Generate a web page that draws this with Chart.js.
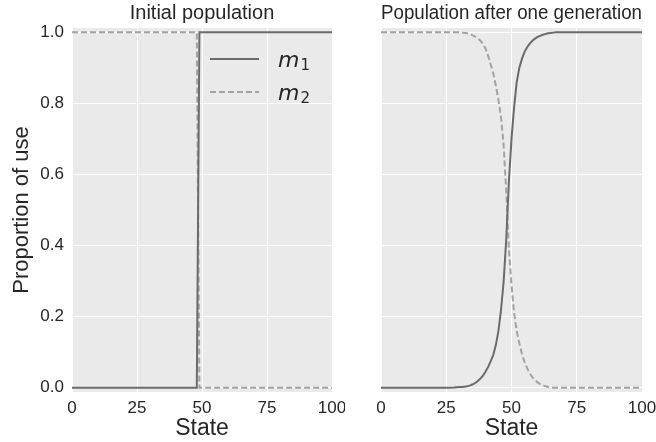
<!DOCTYPE html>
<html>
<head>
<meta charset="utf-8">
<title>Proportion of use</title>
<script src="https://cdn.jsdelivr.net/npm/chart.js@4.4.1/dist/chart.umd.min.js"></script>
<style>
  html, body { margin: 0; padding: 0; background: #fff; overflow: hidden; }
  #wrap { position: relative; width: 656px; height: 442px; }
  .box { position: absolute; top: 0; height: 442px; }
  #boxLeft { left: 0; width: 345px; }
  #boxRight { left: 345px; width: 311px; }
</style>
</head>
<body>
<div id="wrap">
  <div class="box" id="boxLeft"><canvas id="initialChart"></canvas></div>
  <div class="box" id="boxRight"><canvas id="afterChart"></canvas></div>
</div>
<script>
// --- data ---
const seriesNames = ['m1', 'm2'];
const xTicks = [0, 25, 50, 75, 100];
const yTicks = [0, 0.2, 0.4, 0.6, 0.8, 1.0];

// initial population: a sharp switch around state 48/49
const initialStates = [0, 48, 49, 100];
const initialM1 = [0, 0, 1, 1];
const initialM2 = [1, 1, 0, 0];

// after one generation
const afterStates = [0, 25, 28, 30, 31, 32, 33, 34, 35, 36, 37, 38, 39, 40, 41, 42, 43, 44, 45, 46, 47,
    48, 49, 50, 51, 52, 53, 54, 55, 56, 57, 58, 59, 60, 61, 62, 63, 64, 65, 66, 67, 70, 100];
const afterM1 = [0, 0, 0.001, 0.002, 0.002, 0.003, 0.004, 0.006, 0.009, 0.013, 0.018, 0.025, 0.033, 0.045, 0.058, 0.074, 0.092, 0.12, 0.16, 0.22, 0.30,
    0.42, 0.58, 0.70, 0.79, 0.86, 0.90, 0.925, 0.945, 0.958, 0.968, 0.976, 0.982, 0.987, 0.99, 0.993, 0.995, 0.997, 0.998, 0.999, 1, 1, 1];
const afterM2 = [1, 1, 1, 1, 0.999, 0.998, 0.997, 0.995, 0.992, 0.988, 0.983, 0.977, 0.968, 0.955, 0.935, 0.91, 0.885, 0.85, 0.81, 0.76, 0.68,
    0.55, 0.39, 0.29, 0.21, 0.16, 0.125, 0.095, 0.072, 0.055, 0.04, 0.03, 0.022, 0.015, 0.01, 0.007, 0.004, 0.002, 0.001, 0, 0, 0, 0];

const SOLID = '#6b6b6b';
const DASHED = '#a3a3a3';
const TEXT = '#262626';
const FONT = "'Liberation Sans', Arial, sans-serif";

function toPoints(xs, ys) {
    return xs.map((x, i) => ({ x: x, y: ys[i] }));
}

function makeDatasets(xs, m1, m2) {
    return [{
        label: seriesNames[0],
        data: toPoints(xs, m1),
        borderColor: SOLID,
        borderWidth: 2,
        pointRadius: 0,
        tension: 0
    }, {
        label: seriesNames[1],
        data: toPoints(xs, m2),
        borderColor: DASHED,
        borderWidth: 2,
        borderDash: [6, 3],
        pointRadius: 0,
        tension: 0
    }];
}

// gray panel background
const plotBackground = {
    id: 'plotBackground',
    beforeDraw(chart) {
        const { ctx, chartArea: a } = chart;
        ctx.save();
        ctx.fillStyle = '#eaeaea';
        ctx.fillRect(a.left, a.top, a.right - a.left, a.bottom - a.top);
        ctx.restore();
    }
};

// legend with italic m and subscript, no frame
const mathLegend = {
    id: 'mathLegend',
    afterDatasetsDraw(chart) {
        const { ctx, chartArea: a } = chart;
        ctx.save();
        chart.data.datasets.forEach((ds, i) => {
            const y = a.top + 31 + i * 33;
            ctx.strokeStyle = ds.borderColor;
            ctx.lineWidth = 2;
            ctx.setLineDash(ds.borderDash || []);
            ctx.beginPath();
            ctx.moveTo(a.right - 122, y);
            ctx.lineTo(a.right - 73, y);
            ctx.stroke();
            ctx.setLineDash([]);
            ctx.fillStyle = TEXT;
            ctx.textBaseline = 'alphabetic';
            ctx.textAlign = 'left';
            ctx.font = "italic 22px 'DejaVu Sans'";
            const base = y + 8;
            const name = ds.label.charAt(0);
            ctx.fillText(name, a.right - 54, base);
            const w = ctx.measureText(name).width;
            ctx.font = "15px 'DejaVu Sans'";
            ctx.fillText(ds.label.slice(1), a.right - 54 + w + 1, base + 3);
        });
        ctx.restore();
    }
};

function setTicks(values) {
    return function (scale) {
        scale.ticks = values.map(v => ({ value: v }));
    };
}

function baseOptions(title, showY, padding) {
    return {
        responsive: true,
        maintainAspectRatio: false,
        animation: false,
        layout: { padding: padding },
        plugins: {
            legend: { display: false },
            tooltip: { enabled: false },
            title: {
                display: true,
                text: title,
                fullSize: false,
                color: TEXT,
                font: { family: FONT, size: 20, weight: 'normal' },
                padding: { top: 1, bottom: 3 }
            }
        },
        scales: {
            x: {
                type: 'linear',
                min: 0,
                max: 100,
                afterBuildTicks: setTicks(xTicks),
                afterFit(scale) {
                    scale.height = 50;
                    scale.paddingLeft = 0;
                    scale.paddingRight = 0;
                },
                grid: { color: '#ffffff', lineWidth: 1, drawTicks: false },
                border: { display: false },
                ticks: {
                    color: TEXT,
                    padding: 6,
                    maxRotation: 0,
                    font: { family: FONT, size: 17 }
                },
                title: {
                    display: true,
                    text: 'State',
                    color: TEXT,
                    font: { family: FONT, size: 23 },
                    padding: { top: 0, bottom: 0 }
                }
            },
            y: {
                min: -0.012,
                max: 1.012,
                afterBuildTicks: setTicks(yTicks),
                afterFit(scale) { if (showY) scale.width = 72; },
                grid: { color: '#ffffff', lineWidth: 1, drawTicks: false },
                border: { display: false },
                ticks: {
                    display: showY,
                    color: TEXT,
                    padding: 8,
                    font: { family: FONT, size: 17 },
                    callback: v => v.toFixed(1)
                },
                title: {
                    display: showY,
                    text: 'Proportion of use',
                    color: TEXT,
                    font: { family: FONT, size: 22 },
                    padding: { top: 9, bottom: 0 }
                }
            }
        }
    };
}

new Chart(document.getElementById('initialChart'), {
    type: 'line',
    data: { datasets: makeDatasets(initialStates, initialM1, initialM2) },
    options: baseOptions('Initial population', true, { left: 0, right: 13, top: 0, bottom: 0 }),
    plugins: [plotBackground, mathLegend]
});

new Chart(document.getElementById('afterChart'), {
    type: 'line',
    data: { datasets: makeDatasets(afterStates, afterM1, afterM2) },
    options: baseOptions('Population after one generation', false, { left: 36, right: 14, top: 0, bottom: 0 }),
    plugins: [plotBackground]
});
</script>
</body>
</html>
